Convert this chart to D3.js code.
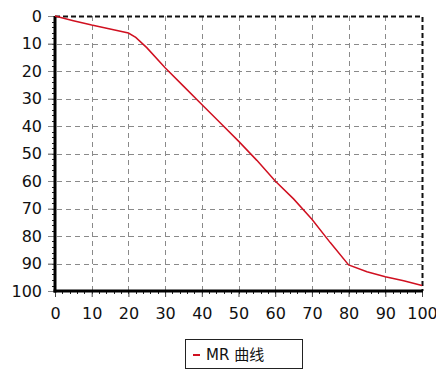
<!DOCTYPE html>
<html>
<head>
<meta charset="utf-8">
<script src="https://cdn.jsdelivr.net/npm/d3@7"></script>
<style>
  body { margin: 0; background: #fff; }
  svg { display: block; font-family: "DejaVu Sans", sans-serif; }
</style>
</head>
<body>
<script>
// MR curve
const xValues = [0, 5, 10, 15, 20, 22, 25, 30, 35, 40, 45, 50, 55, 60, 65, 70, 75, 80, 85, 90, 95, 100];
const yValues = [0, 1.7, 3.3, 4.7, 6.2, 7.8, 11.5, 18.8, 25.5, 32.2, 38.8, 45.5, 52.5, 60, 66.5, 73.9, 82.4, 90.5, 93, 94.8, 96.3, 98];
const xTicks = [0, 10, 20, 30, 40, 50, 60, 70, 80, 90, 100];
const yTicks = [0, 10, 20, 30, 40, 50, 60, 70, 80, 90, 100];
const seriesName = "MR 曲线";

const data = xValues.map((x, i) => ({x: x, y: yValues[i]}));

const W = 436, H = 371;
const plot = {left: 55, right: 422, top: 16, bottom: 291};

const xScale = d3.scaleLinear().domain([0, 100]).range([plot.left, plot.right]);
const yScale = d3.scaleLinear().domain([0, 100]).range([plot.top, plot.bottom]);

const svg = d3.select("body").append("svg")
  .attr("width", W)
  .attr("height", H);

// grid
const grid = svg.append("g").attr("stroke", "#8a8a8a").attr("stroke-width", 1.2)
  .attr("stroke-dasharray", "5,4").attr("shape-rendering", "crispEdges");
grid.selectAll(".vg").data(xTicks.slice(1, -1)).enter().append("line")
  .attr("x1", d => Math.round(xScale(d)) + 0.5).attr("x2", d => Math.round(xScale(d)) + 0.5)
  .attr("y1", plot.top).attr("y2", plot.bottom);
grid.selectAll(".hg").data(yTicks.slice(1, -1)).enter().append("line")
  .attr("y1", d => Math.round(yScale(d)) + 0.5).attr("y2", d => Math.round(yScale(d)) + 0.5)
  .attr("x1", plot.left - 7).attr("x2", plot.right);

// top and right dashed border
svg.append("path")
  .attr("d", `M${plot.left},${plot.top + 0.5}H${plot.right + 0.5}V${plot.bottom}`)
  .attr("fill", "none").attr("stroke", "#111").attr("stroke-width", 2)
  .attr("stroke-dasharray", "5,3");

// minor ticks
const minor = d3.range(0, 101, 2);
svg.append("g").attr("stroke", "#222").attr("shape-rendering", "crispEdges")
  .selectAll("line").data(minor).enter().append("line")
  .attr("x1", d => Math.round(xScale(d)) + 0.5).attr("x2", d => Math.round(xScale(d)) + 0.5)
  .attr("y1", plot.bottom).attr("y2", plot.bottom + 3);
svg.append("g").attr("stroke", "#222").attr("shape-rendering", "crispEdges")
  .selectAll("line").data(minor).enter().append("line")
  .attr("y1", d => Math.round(yScale(d)) + 0.5).attr("y2", d => Math.round(yScale(d)) + 0.5)
  .attr("x1", plot.left - 3).attr("x2", plot.left);

// axes
const xAxis = d3.axisBottom(xScale).tickValues(xTicks).tickSize(6).tickPadding(11);
const yAxis = d3.axisLeft(yScale).tickValues(yTicks).tickSize(7).tickPadding(6);

const gx = svg.append("g").attr("transform", `translate(0,${plot.bottom})`).call(xAxis);
const gy = svg.append("g").attr("transform", `translate(${plot.left},0)`).call(yAxis);

[gx, gy].forEach(g => {
  g.select(".domain").remove();
  g.selectAll(".tick line").attr("stroke", "#444");
  g.selectAll("text").attr("font-size", 16).attr("fill", "#111")
    .attr("font-family", "DejaVu Sans, sans-serif");
});
gy.selectAll(".tick line").attr("stroke", "#888");

// thick axis lines
svg.append("line").attr("x1", plot.left).attr("x2", plot.left)
  .attr("y1", plot.top).attr("y2", plot.bottom + 1.5)
  .attr("stroke", "#000").attr("stroke-width", 3);
svg.append("line").attr("x1", plot.left - 1.5).attr("x2", plot.right + 1)
  .attr("y1", plot.bottom).attr("y2", plot.bottom)
  .attr("stroke", "#000").attr("stroke-width", 3);

// curve
const line = d3.line().x(d => xScale(d.x)).y(d => yScale(d.y));
svg.append("path").datum(data)
  .attr("d", line)
  .attr("fill", "none")
  .attr("stroke", "#d01020")
  .attr("stroke-width", 1.5);

// legend
const legend = svg.append("g").attr("transform", "translate(185,339)");
legend.append("rect").attr("x", 0.5).attr("y", 0.5).attr("width", 117).attr("height", 29)
  .attr("fill", "#fff").attr("stroke", "#222");
legend.append("line").attr("x1", 8).attr("x2", 15).attr("y1", 16).attr("y2", 16)
  .attr("stroke", "#d01020").attr("stroke-width", 2);
legend.append("text").attr("x", 21).attr("y", 21)
  .attr("font-size", 15).attr("fill", "#111")
  .attr("font-family", "DejaVu Sans, 'Noto Sans CJK SC', sans-serif")
  .text(seriesName);
</script>
</body>
</html>
